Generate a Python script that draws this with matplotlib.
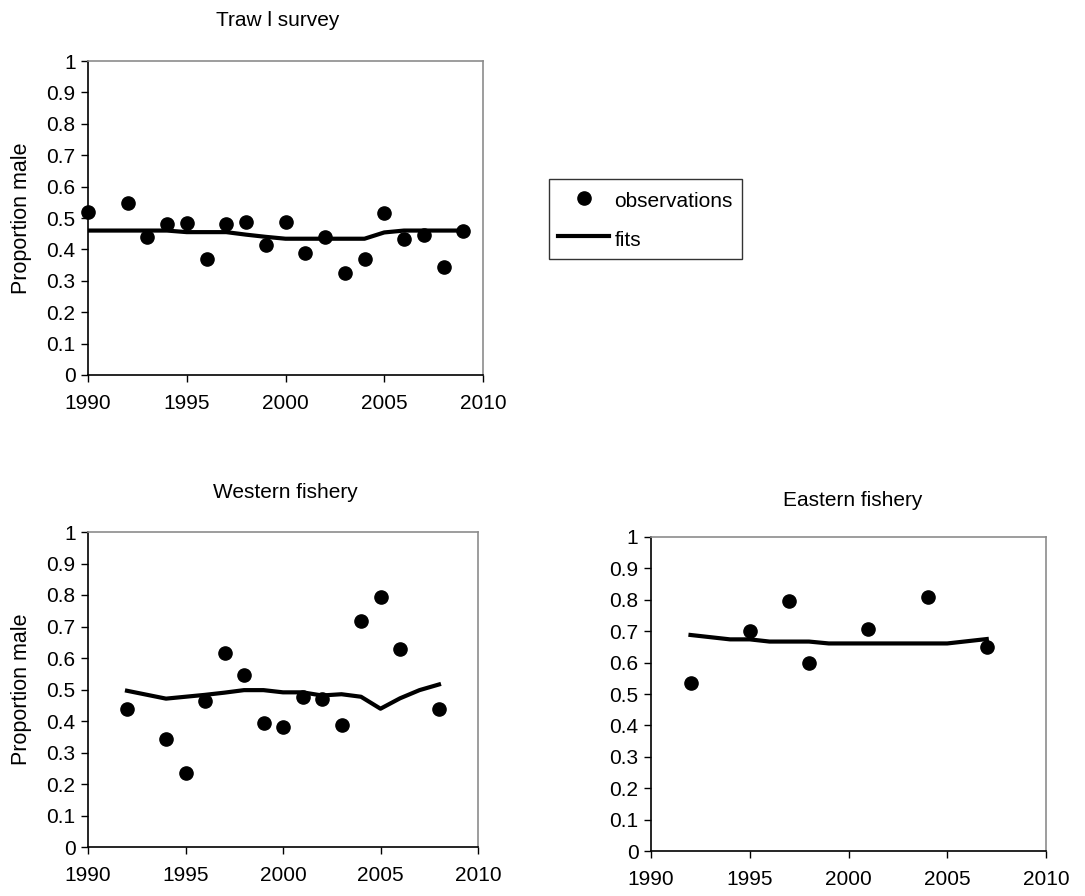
import matplotlib
matplotlib.use('Agg')
import matplotlib.pyplot as plt
from matplotlib.lines import Line2D

plt.rcParams['font.family'] = ['Liberation Sans', 'DejaVu Sans']

# Trawl survey
trawl_obs_years = [1990, 1992, 1993, 1994, 1995, 1996, 1997, 1998, 1999, 2000,
                   2001, 2002, 2003, 2004, 2005, 2006, 2007, 2008, 2009]
trawl_obs = [0.518, 0.549, 0.438, 0.481, 0.485, 0.370, 0.480, 0.486, 0.414, 0.486,
             0.390, 0.439, 0.326, 0.370, 0.517, 0.434, 0.446, 0.345, 0.460]
trawl_fit_years = [1990, 1991, 1992, 1993, 1994, 1995, 1996, 1997, 1998, 1999,
                   2000, 2001, 2002, 2003, 2004, 2005, 2006, 2007, 2008, 2009]
trawl_fit = [0.460, 0.460, 0.460, 0.460, 0.460, 0.455, 0.455, 0.455, 0.447, 0.440,
             0.434, 0.434, 0.434, 0.434, 0.434, 0.454, 0.460, 0.460, 0.460, 0.460]

# Western fishery
west_obs_years = [1992, 1994, 1995, 1996, 1997, 1998, 1999, 2000, 2001, 2002,
                  2003, 2004, 2005, 2006, 2008]
west_obs = [0.438, 0.344, 0.235, 0.464, 0.617, 0.546, 0.394, 0.382, 0.477, 0.469,
            0.387, 0.718, 0.794, 0.629, 0.439]
west_fit_years = [1992, 1994, 1995, 1996, 1997, 1998, 1999, 2000, 2001, 2002,
                  2003, 2004, 2005, 2006, 2007, 2008]
west_fit = [0.496, 0.471, 0.477, 0.483, 0.490, 0.498, 0.498, 0.491, 0.491, 0.481,
            0.485, 0.477, 0.439, 0.472, 0.498, 0.516]

# Eastern fishery
east_obs_years = [1992, 1995, 1997, 1998, 2001, 2004, 2007]
east_obs = [0.535, 0.700, 0.795, 0.599, 0.706, 0.809, 0.649]
east_fit_years = [1992, 1994, 1995, 1996, 1997, 1998, 1999, 2000, 2001, 2002,
                  2003, 2004, 2005, 2006, 2007]
east_fit = [0.688, 0.674, 0.674, 0.667, 0.667, 0.667, 0.661, 0.661, 0.661, 0.661,
            0.661, 0.661, 0.661, 0.668, 0.675]

xticks = [1990, 1995, 2000, 2005, 2010]
yticks = [0, 0.1, 0.2, 0.3, 0.4, 0.5, 0.6, 0.7, 0.8, 0.9, 1]
ytick_labels = ['0', '0.1', '0.2', '0.3', '0.4', '0.5', '0.6', '0.7', '0.8', '0.9', '1']

W, H = 1085, 896
fig = plt.figure(figsize=(W / 100, H / 100), dpi=100)


def px_axes(left, top, right, bottom):
    return fig.add_axes([left / W, 1 - bottom / H, (right - left) / W, (bottom - top) / H])


def style_panel(ax, title, title_x, title_pad, ylabel=True):
    ax.set_xlim(1990, 2010)
    ax.set_ylim(0, 1)
    ax.set_xticks(xticks)
    ax.set_xticklabels([str(t) for t in xticks])
    ax.set_yticks(yticks)
    ax.set_yticklabels(ytick_labels)
    ax.tick_params(axis='both', direction='out', length=5, width=1, labelsize=15,
                   top=False, right=False)
    ax.tick_params(axis='x', pad=8.5)
    ax.tick_params(axis='y', pad=4)
    ax.spines['left'].set_color('black')
    ax.spines['bottom'].set_color('black')
    ax.spines['top'].set_color('#8c8c8c')
    ax.spines['right'].set_color('#8c8c8c')
    for s in ax.spines.values():
        s.set_linewidth(1.2)
    ax.set_title(title, fontsize=15, pad=title_pad, x=title_x)
    if ylabel:
        ax.set_ylabel('Proportion male', fontsize=15.5, labelpad=10)


def draw(ax, oy, ov, fy, fv):
    ax.plot(fy, fv, color='black', linewidth=3, solid_joinstyle='round', zorder=2)
    ax.plot(oy, ov, 'o', color='black', markersize=9.5, zorder=3, clip_on=False)


ax1 = px_axes(88, 61, 483, 375)
draw(ax1, trawl_obs_years, trawl_obs, trawl_fit_years, trawl_fit)
style_panel(ax1, 'Traw l survey', 0.481, 25)

ax2 = px_axes(88, 532, 478, 847)
draw(ax2, west_obs_years, west_obs, west_fit_years, west_fit)
style_panel(ax2, 'Western fishery', 0.505, 24.5)

ax3 = px_axes(651, 537, 1046, 851)
draw(ax3, east_obs_years, east_obs, east_fit_years, east_fit)
style_panel(ax3, 'Eastern fishery', 0.511, 22.5, ylabel=False)

handles = [
    Line2D([], [], marker='o', linestyle='none', color='black', markersize=9.5),
    Line2D([], [], color='black', linewidth=3),
]
leg = fig.legend(handles, ['observations', 'fits'], loc='upper left',
                 bbox_to_anchor=(549 / W, 1 - 179 / H), fontsize=15,
                 frameon=True, fancybox=False, borderaxespad=0,
                 handlelength=2.45, handleheight=1.3, handletextpad=0.24,
                 borderpad=0.45, labelspacing=0.78)
leg.get_frame().set_edgecolor('black')
leg.get_frame().set_linewidth(1)

fig.savefig('out.png', dpi=100)
